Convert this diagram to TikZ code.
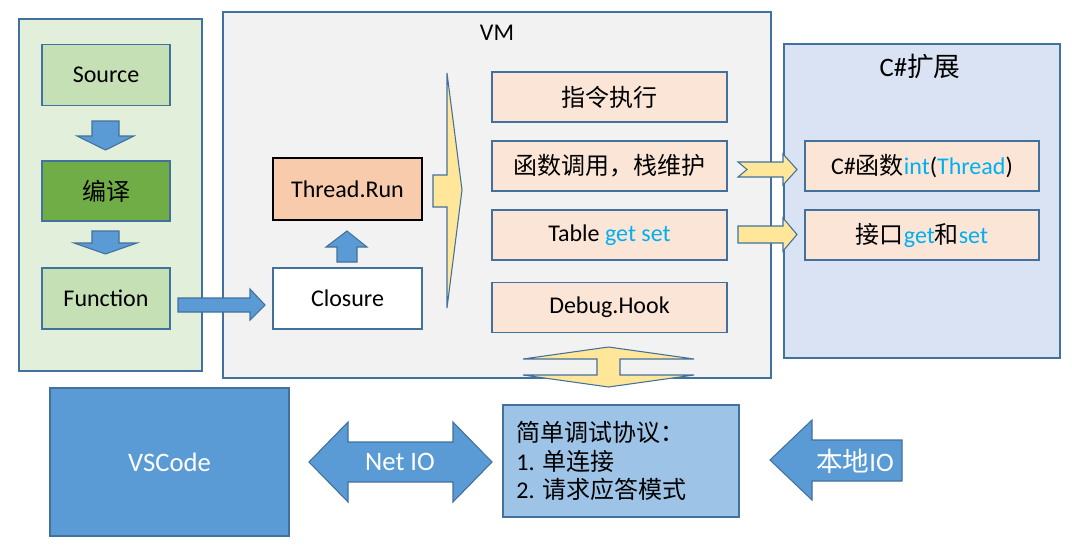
\documentclass[tikz,border=0pt]{standalone}
\usepackage{fontspec}
\setmainfont{Carlito}
\newfontfamily\cjk{Noto Sans CJK SC}
\definecolor{edgeblue}{HTML}{41719C}
\definecolor{leftbg}{HTML}{E2EFDA}
\definecolor{srcgreen}{HTML}{C5E0B4}
\definecolor{cmpgreen}{HTML}{70AD47}
\definecolor{vmbg}{HTML}{F2F2F2}
\definecolor{runorange}{HTML}{F8CBAD}
\definecolor{opbg}{HTML}{FBE5D6}
\definecolor{csbg}{HTML}{DAE3F3}
\definecolor{arrowyellow}{HTML}{FFE699}
\definecolor{arrowblue}{HTML}{5B9BD5}
\definecolor{protobg}{HTML}{9DC3E6}
\definecolor{kwcyan}{HTML}{00B0F0}
\newcommand{\kw}[1]{\textcolor{kwcyan}{#1}}
\newcommand{\zh}[1]{{\cjk #1}}
\frenchspacing
\tikzset{
  panel/.style={draw=edgeblue, line width=1.2pt},
  blk/.style={draw=edgeblue, line width=1.2pt, inner sep=0pt, font=\fontsize{18}{21.5}\selectfont},
  stagebox/.style={blk, fill=srcgreen, minimum width=96pt, minimum height=46pt},
  opbox/.style={blk, fill=opbg, minimum width=176.25pt, minimum height=37.5pt},
  bluearrow/.style={draw=edgeblue, fill=arrowblue, line width=0.8pt},
  yellowarrow/.style={draw=edgeblue, fill=arrowyellow, line width=0.8pt},
  bigtext/.style={font=\fontsize{20}{24}\selectfont}
}

\begin{document}
\begin{tikzpicture}[x=0.75pt,y=-0.75pt]
\useasboundingbox (0,0) rectangle (1072,544);
% panels
\draw[panel, fill=leftbg] (19,19) rectangle (202,371);
\draw[panel, fill=vmbg] (223,12) rectangle (771,378);
\draw[panel, fill=csbg] (784,44) rectangle (1060,358);
\node[font=\fontsize{18}{21.5}\selectfont] (vmtitle) at (497,33) {VM};
\node[bigtext] (cstitle) at (920,66) {C\#\zh{扩展}};

% compile chain
\node[stagebox] (src) at (106,75) {Source};
\node[stagebox, fill=cmpgreen, minimum height=45pt] (cmp) at (106,191) {\zh{编译}};
\node[stagebox] (fn) at (106,298.5) {Function};

% vm
\node[blk, draw=black, fill=runorange, minimum width=111.75pt, minimum height=46.5pt] (run) at (347.5,189) {Thread.Run};
\node[blk, fill=white, minimum width=111.75pt, minimum height=45.75pt] (cl) at (347.5,298.5) {Closure};
\node[opbox] (exec) at (609.5,97) {\zh{指令执行}};
\node[opbox] (call) at (609.5,166) {\zh{函数调用，栈维护}};
\node[opbox] (tbl) at (609.5,235) {Table \kw{get set}};
\node[opbox] (dbg) at (609.5,307.5) {Debug.Hook};

% C# side
\node[opbox, minimum width=175.5pt] (csfn) at (922,166) {C\#\zh{函数}\kw{int}(\kw{Thread})};
\node[opbox, minimum width=175.5pt] (csif) at (922,235) {\zh{接口}\kw{get}\zh{和}\kw{set}};

% bottom row
\node[blk, bigtext, fill=arrowblue, text=white, minimum width=179.25pt, minimum height=111pt] (vsc) at (169.5,462) {VSCode};
\node[blk, fill=protobg, minimum height=84pt, text width=157pt, align=left, inner xsep=10pt] (proto) at (621,461)
  {\zh{简单调试协议：}\\1. \zh{单连接}\\2. \zh{请求应答模式}};

% block arrows
\draw[bluearrow] (92,121) -- (119,121) -- (119,136) -- (134,136) -- (105.5,150) -- (77,136) -- (92,136) -- cycle;
\draw[bluearrow] (92,231) -- (119,231) -- (119,243) -- (137,243) -- (105.5,254) -- (74,243) -- (92,243) -- cycle;
\draw[bluearrow] (178,298) -- (250,298) -- (250,289) -- (265,305) -- (250,320) -- (250,312) -- (178,312) -- cycle;
\draw[bluearrow] (337,262) -- (337,247) -- (326,247) -- (347,231) -- (367,247) -- (357,247) -- (357,262) -- cycle;
\draw[yellowarrow] (433,175) -- (447,175) -- (447,73) -- (462,190) -- (447,308) -- (447,207) -- (433,207) -- cycle;
\draw[yellowarrow] (738,162) -- (783,162) -- (783,154) -- (797,169.5) -- (783,185) -- (783,177) -- (738,177) -- (747,169.5) -- cycle;
\draw[yellowarrow] (738,226) -- (783,226) -- (783,218) -- (797,234.5) -- (783,251) -- (783,243) -- (738,243) -- cycle;
\draw[yellowarrow] (597,359) -- (523,359) -- (608.5,347) -- (694,359) -- (620,359) -- (620,375) -- (694,375) -- (608.5,387) -- (523,375) -- (597,375) -- cycle;
\draw[bluearrow] (309,462) -- (348,422) -- (348,442) -- (453,442) -- (453,422) -- (492,462) -- (453,502) -- (453,482) -- (348,482) -- (348,502) -- cycle;
\draw[bluearrow] (770,460) -- (812,420) -- (812,440) -- (902,440) -- (902,481) -- (812,481) -- (812,500) -- cycle;
\node[bigtext, text=white] (net) at (400,462) {Net IO};
\node[bigtext, text=white] (local) at (855,461) {\zh{本地}IO};
\end{tikzpicture}
\end{document}
